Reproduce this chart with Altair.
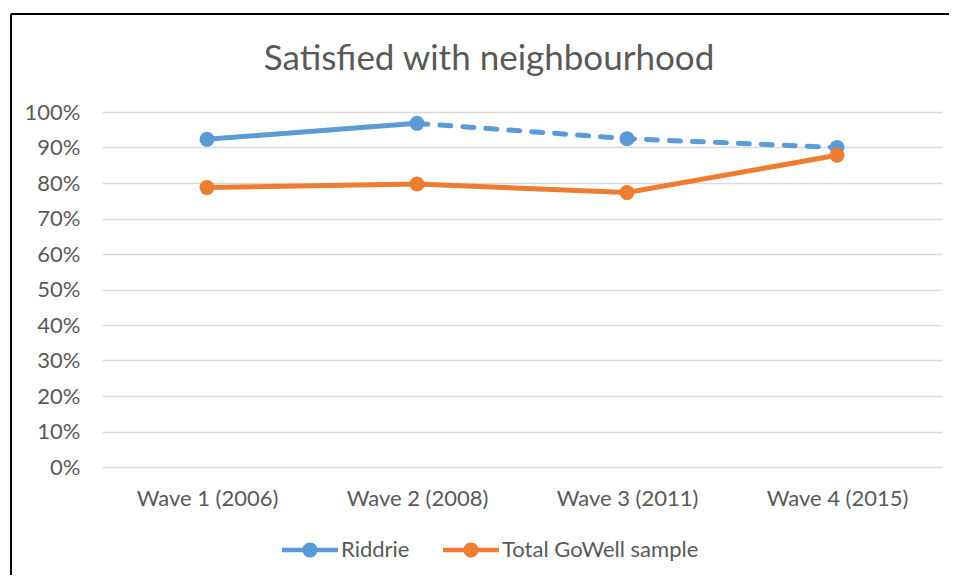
import altair as alt
import pandas as pd

categories = ["Wave 1 (2006)", "Wave 2 (2008)", "Wave 3 (2011)", "Wave 4 (2015)"]
series_names = ["Riddrie", "Total GoWell sample"]
riddrie = [92.3, 96.8, 92.5, 90.0]
total = [78.7, 79.7, 77.3, 87.8]
y_ticks = [0, 10, 20, 30, 40, 50, 60, 70, 80, 90, 100]
colors = ["#5B9BD5", "#ED7D31"]

rid_df = pd.DataFrame({"wave": categories, "series": "Riddrie", "value": riddrie})
tot_df = pd.DataFrame({"wave": categories, "series": "Total GoWell sample", "value": total})
all_df = pd.concat([rid_df, tot_df], ignore_index=True)
rid_solid = rid_df.iloc[0:2]
rid_dashed = rid_df.iloc[1:4]

FONT = "Lato"
TXT = "#595959"

x_enc = alt.X(
    "wave:N", sort=categories,
    scale=alt.Scale(type="point", padding=0.5),
    axis=alt.Axis(title=None, labelAngle=0, domain=False, ticks=False, tickSize=0,
                  labelPadding=38, labelBaseline="alphabetic", labelFontSize=22,
                  labelFont=FONT, labelColor=TXT, grid=False),
)
y_enc = alt.Y(
    "value:Q", scale=alt.Scale(domain=[0, 100]),
    axis=alt.Axis(title=None, values=y_ticks, labelExpr="datum.value + '%'",
                  domain=False, ticks=False, tickSize=0, labelPadding=22,
                  labelFontSize=22, labelFont=FONT, labelColor=TXT,
                  grid=True, gridColor="#d9d9d9", gridWidth=1.5),
)
color_scale = alt.Scale(domain=series_names, range=colors)

line_kw = dict(strokeWidth=5, strokeCap="round", strokeJoin="round")

l1 = alt.Chart(rid_solid).mark_line(**line_kw).encode(
    x=x_enc, y=y_enc, color=alt.Color("series:N", scale=color_scale, legend=None))
l2 = alt.Chart(rid_dashed).mark_line(strokeDash=[11, 12], **line_kw).encode(
    x=x_enc, y=y_enc, color=alt.Color("series:N", scale=color_scale, legend=None))
l3 = alt.Chart(tot_df).mark_line(**line_kw).encode(
    x=x_enc, y=y_enc, color=alt.Color("series:N", scale=color_scale, legend=None))

sym = ("M-1,-0.08 L1,-0.08 L1,0.08 L-1,0.08 Z "
       "M-0.27,0 A0.27,0.27 0 1,1 0.27,0 A0.27,0.27 0 1,1 -0.27,0 Z")

pts = alt.Chart(all_df).mark_point(filled=True, size=225, opacity=1).encode(
    x=x_enc, y=y_enc,
    color=alt.Color("series:N", scale=color_scale,
                    legend=alt.Legend(orient="none", legendX=180, legendY=410,
                                      direction="horizontal", title=None,
                                      symbolType=sym, symbolSize=3136,
                                      symbolStrokeWidth=0, symbolOpacity=1,
                                      labelFont=FONT, labelFontSize=22,
                                      labelColor=TXT, labelOffset=3,
                                      labelLimit=400, columnPadding=33)),
)

anchor = pd.DataFrame({"k": [0]})
border_left = alt.Chart(anchor).mark_rule(color="black", strokeWidth=2).encode(
    x=alt.value(-91), y=alt.value(-98), y2=alt.value(480))
border_top = alt.Chart(anchor).mark_rule(color="black", strokeWidth=2).encode(
    x=alt.value(-91), x2=alt.value(870), y=alt.value(-98))

chart = alt.layer(border_left, border_top, l1, l2, l3, pts).resolve_scale(
    color="independent"
).properties(
    width=840, height=355,
    title=alt.Title("Satisfied with neighbourhood", font=FONT, fontSize=35,
                    fontWeight="normal", color=TXT, anchor="middle",
                    baseline="alphabetic", offset=-92, dx=-33),
    autosize=alt.AutoSizeParams(type="none"),
    padding={"left": 94, "top": 104, "right": 7, "bottom": 108},
    background="white",
).configure_view(stroke=None)

chart.save("out.html", embed_options={"renderer": "svg", "actions": False})
